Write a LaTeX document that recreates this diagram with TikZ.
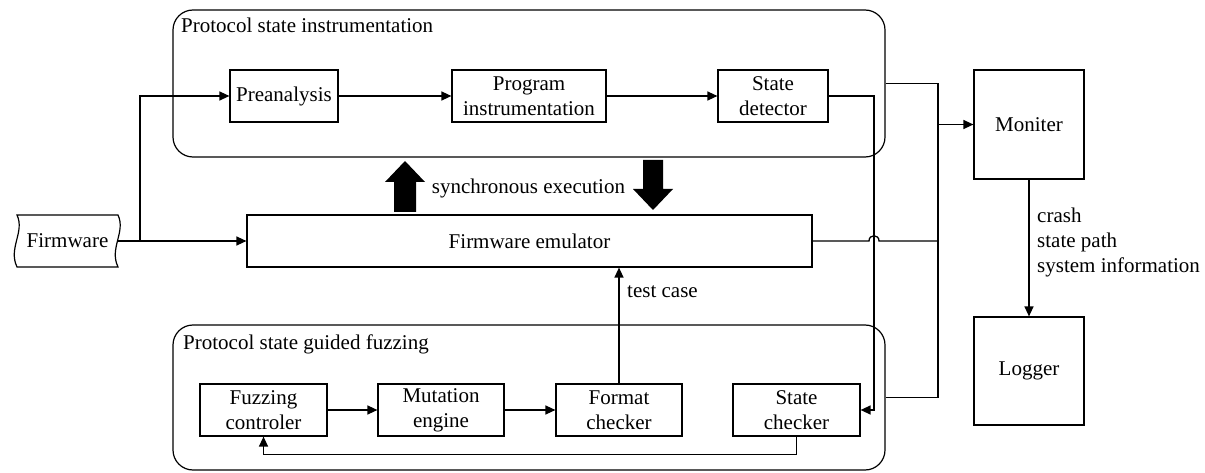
\documentclass[tikz,border=0pt]{standalone}
\usepackage{fontspec}
\setmainfont{Liberation Serif}
\usetikzlibrary{arrows.meta}
\tikzset{
  box/.style={draw, line width=1.2pt, inner sep=0pt, align=center, minimum height=52pt},
  container/.style={draw, line width=1.2pt, rounded corners=20pt, inner sep=0pt},
  conn/.style={line width=1.3pt},
  arr/.style={line width=1.3pt, -{Triangle[length=10pt,width=9pt]}},
  lbl/.style={inner sep=0pt},
}
\begin{document}
\begin{tikzpicture}[x=1pt, y=-1pt, font=\fontsize{21}{25}\selectfont]
\useasboundingbox (0,0) rectangle (1205,473);
% containers
\node[container, minimum width=712pt, minimum height=147pt] (top) at (529,83.5) {};
\node[container, minimum width=712pt, minimum height=145pt] (bot) at (529,397.5) {};
\node[lbl, anchor=base west] (toptitle) at (181,33) {Protocol state instrumentation};
\node[lbl, anchor=base west] (bottitle) at (183,349) {Protocol state guided fuzzing};
% top boxes
\node[box, minimum width=108pt] (pre) at (284,96) {Preanalysis};
\node[box, minimum width=154pt] (prog) at (529,96) {Program\\instrumentation};
\node[box, minimum width=110pt] (sd) at (773,96) {State\\detector};
% emulator
\node[box, minimum width=565pt] (emu) at (529.5,241) {Firmware emulator};
% bottom boxes
\node[box, minimum width=127pt] (fc) at (263.5,410) {Fuzzing\\controler};
\node[box, minimum width=126pt] (mut) at (441,410) {Mutation\\engine};
\node[box, minimum width=126pt] (fmt) at (619,410) {Format\\checker};
\node[box, minimum width=127pt] (sc) at (796.5,410) {State\\checker};
% monitor / logger
\node[box, minimum width=110pt, minimum height=109pt] (mon) at (1029,124.5) {Moniter};
\node[box, minimum width=110pt, minimum height=108pt] (log) at (1029,371) {Logger};
% firmware tape
\node[lbl, minimum width=101pt, minimum height=52pt] (fw) at (67.5,241) {Firmware};
\draw[line width=1.2pt] (17,215) -- (118,215)
  .. controls (126,232) and (109,248) .. (118,267) -- (17,267)
  .. controls (8,248) and (25,232) .. (17,215) -- cycle;
% firmware connectors
\coordinate (jn) at (140,241);
\draw[arr] (fw.east) -- (emu.west);
\draw[arr] (jn) |- (pre.west);
% top chain
\draw[arr] (pre.east) -- (prog.west);
\draw[arr] (prog.east) -- (sd.west);
% bottom chain
\draw[arr] (fc.east) -- (mut.west);
\draw[arr] (mut.east) -- (fmt.west);
\draw[arr] (sc.south) -- ++(0,18) -| (fc.south);
% test case
\draw[arr] (fmt.north) -- (fmt.north |- emu.south);
\node[lbl, anchor=west] (tc) at (627,292) {test case};
% state detector to state checker
\coordinate (drop) at (874,241);
\draw[arr] (sd.east) -- (sd.east -| drop) -- (drop |- sc.east) -- (sc.east);
% bus
\coordinate (busT) at (938,83.5);
\coordinate (busB) at (938,397.5);
\coordinate (hopL) at (869,241);
\coordinate (hopR) at (879,241);
\draw[conn] (top.east) -- (busT) -- (busB) -- (bot.east);
\draw[conn] (emu.east) -- (hopL) .. controls +(0,-7) and +(0,-7) .. (hopR) -- (hopR -| busT);
\draw[arr] (busT |- mon.west) -- (mon.west);
% monitor to logger
\draw[arr] (mon.south) -- (log.north);
\node[lbl, anchor=west, align=left] (info) at (1037,242) {crash\\state path\\system information};
% synchronous execution
\fill (394,212) -- (394,182) -- (385,182) -- (405,161) -- (425,182) -- (416,182) -- (416,212) -- cycle;
\fill (643,160) -- (663,160) -- (663,189) -- (673,189) -- (653,210) -- (633,189) -- (643,189) -- cycle;
\node[lbl] (sync) at (528.5,188) {synchronous execution};
\end{tikzpicture}
\end{document}
